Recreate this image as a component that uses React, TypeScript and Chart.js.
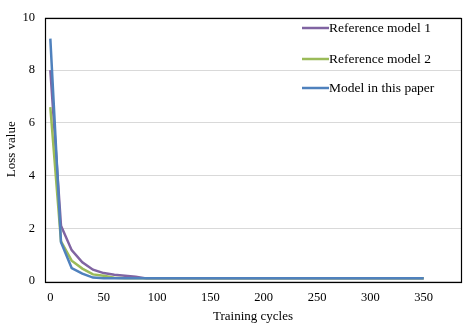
import React, { useEffect, useRef } from "react";
import { Chart, registerables } from "chart.js";

Chart.register(...registerables);

const cycles = [0, 10, 20, 30, 40, 50, 60, 70, 80, 90, 100, 110, 120, 130, 140, 150, 160, 170, 180, 190, 200, 210, 220, 230, 240, 250, 260, 270, 280, 290, 300, 310, 320, 330, 340, 350];
const refModel1 = [8.0, 2.1, 1.17, 0.71, 0.43, 0.3, 0.24, 0.2, 0.16, 0.1, 0.1, 0.1, 0.1, 0.1, 0.1, 0.1, 0.1, 0.1, 0.1, 0.1, 0.1, 0.1, 0.1, 0.1, 0.1, 0.1, 0.1, 0.1, 0.1, 0.1, 0.1, 0.1, 0.1, 0.1, 0.1, 0.1];
const refModel2 = [6.6, 1.5, 0.77, 0.47, 0.25, 0.2, 0.12, 0.1, 0.1, 0.1, 0.1, 0.1, 0.1, 0.1, 0.1, 0.1, 0.1, 0.1, 0.1, 0.1, 0.1, 0.1, 0.1, 0.1, 0.1, 0.1, 0.1, 0.1, 0.1, 0.1, 0.1, 0.1, 0.1, 0.1, 0.1, 0.1];
const thisModel = [9.2, 1.47, 0.49, 0.28, 0.13, 0.1, 0.1, 0.1, 0.1, 0.1, 0.1, 0.1, 0.1, 0.1, 0.1, 0.1, 0.1, 0.1, 0.1, 0.1, 0.1, 0.1, 0.1, 0.1, 0.1, 0.1, 0.1, 0.1, 0.1, 0.1, 0.1, 0.1, 0.1, 0.1, 0.1, 0.1];
const seriesNames = ["Reference model 1", "Reference model 2", "Model in this paper"];
const seriesColors = ["#8064A2", "#9BBB59", "#4F81BD"];
const xTicks = [0, 50, 100, 150, 200, 250, 300, 350];

const FONT = "'Liberation Serif', 'Times New Roman', serif";

const legendPlugin = {
  id: "customLegend",
  afterDraw(chart: any) {
    const ctx = chart.ctx;
    ctx.save();
    ctx.font = `13.5px ${FONT}`;
    ctx.textBaseline = "middle";
    ctx.fillStyle = "#000";
    const ys = [28, 59, 88];
    seriesNames.forEach((name, i) => {
      ctx.strokeStyle = seriesColors[i];
      ctx.lineWidth = 2.5;
      ctx.beginPath();
      ctx.moveTo(302, ys[i]);
      ctx.lineTo(329, ys[i]);
      ctx.stroke();
      ctx.fillText(name, 329, ys[i] + 0.5);
    });
    ctx.restore();
  },
};

const borderPlugin = {
  id: "plotBorder",
  afterDatasetsDraw(chart: any) {
    const { ctx, chartArea } = chart;
    ctx.save();
    ctx.strokeStyle = "#000";
    ctx.lineWidth = 1.2;
    ctx.strokeRect(Math.round(chartArea.left) + 0.5, Math.round(chartArea.top) + 0.5, Math.round(chartArea.right - chartArea.left), Math.round(chartArea.bottom - chartArea.top));
    ctx.restore();
  },
};

export default function App() {
  const ref = useRef<HTMLCanvasElement>(null);
  useEffect(() => {
    document.body.style.margin = "0";
    const data = [refModel1, refModel2, thisModel];
    const chart = new Chart(ref.current!, {
      type: "line",
      data: {
        datasets: data.map((vals, i) => ({
          label: seriesNames[i],
          data: vals.map((v, j) => ({ x: cycles[j], y: v })),
          borderColor: seriesColors[i],
          backgroundColor: seriesColors[i],
          borderWidth: 2.5,
          pointRadius: 0,
          tension: 0,
          order: 3 - i,
        })),
      },
      options: {
        animation: false,
        responsive: false,
        maintainAspectRatio: false,
        layout: { padding: { top: 9, right: 10, left: 0, bottom: 0 } },
        plugins: { legend: { display: false }, tooltip: { enabled: false } },
        scales: {
          x: {
            type: "linear",
            min: -5,
            max: 385,
            afterFit: (s: any) => { s.height = 47; },
            afterBuildTicks: (s: any) => { s.ticks = xTicks.map((v) => ({ value: v })); },
            grid: { display: false, drawTicks: false },
            border: { display: false },
            ticks: { color: "#000", font: { family: FONT, size: 12.5 }, padding: 9, maxRotation: 0, autoSkip: false },
            title: { display: true, text: "Training cycles", color: "#000", font: { family: FONT, size: 13 }, padding: { top: 0, bottom: 4 } },
          },
          y: {
            min: 0,
            max: 10,
            afterFit: (s: any) => { s.width = 45; },
            ticks: { stepSize: 2, color: "#000", font: { family: FONT, size: 12.5 }, padding: 10 },
            grid: { color: "#d9d9d9", lineWidth: 1, drawTicks: false },
            border: { display: false },
            title: { display: true, text: "Loss value", color: "#000", font: { family: FONT, size: 13 }, padding: { top: 4, bottom: 0 } },
          },
        },
      },
      plugins: [borderPlugin, legendPlugin],
    });
    return () => chart.destroy();
  }, []);
  return (
    <div style={{ width: 471, height: 328, position: "relative", background: "#fff" }}>
      <canvas ref={ref} width={471} height={328} style={{ width: 471, height: 328 }} />
    </div>
  );
}
